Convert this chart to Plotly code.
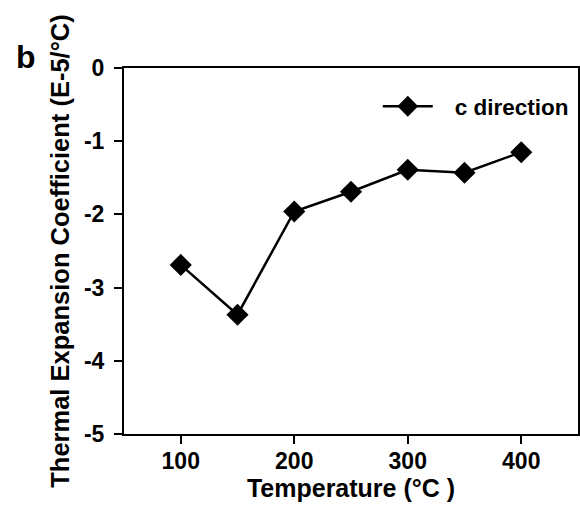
import plotly.graph_objects as go

temperature = [100, 150, 200, 250, 300, 350, 400]
c_direction = [-2.69, -3.37, -1.96, -1.69, -1.39, -1.43, -1.15]
x_ticks = [100, 200, 300, 400]
y_ticks = [0, -1, -2, -3, -4, -5]
y_tick_text = ["0", "-1", "-2", "-3", "-4", "-5"]

FAM = "Liberation Sans, Arial, sans-serif"

fig = go.Figure()
fig.add_trace(go.Scatter(
    x=temperature, y=c_direction, mode="lines+markers",
    name="\u00a0\u00a0\u2009c direction",
    line=dict(color="black", width=2.5),
    marker=dict(symbol="diamond", size=17, color="black"),
))

fig.update_layout(
    width=580, height=509,
    margin=dict(l=124, r=2, t=68, b=75),
    plot_bgcolor="white", paper_bgcolor="white",
    font=dict(family=FAM, size=20, color="black", weight="bold"),
    showlegend=True,
    legend=dict(x=0.559, y=0.8945, xanchor="left", yanchor="middle",
                bgcolor="rgba(0,0,0,0)",
                font=dict(family=FAM, size=22.5, weight="bold", color="black"),
                itemwidth=50),
    xaxis=dict(range=[50, 450], tickvals=x_ticks, ticks="outside", ticklen=8,
               tickwidth=2, tickcolor="black", showline=True, linewidth=2,
               linecolor="black", mirror=True, showgrid=False, zeroline=False,
               automargin=False, ticklabelstandoff=-3,
               tickfont=dict(family=FAM, size=23, weight="bold", color="black"),
               title=dict(text="Temperature (°C )", standoff=2,
                          font=dict(family=FAM, size=25, weight="bold", color="black"))),
    yaxis=dict(range=[-5, 0], tickvals=y_ticks, ticktext=y_tick_text,
               ticks="outside", ticklen=8,
               tickwidth=2, tickcolor="black", showline=True, linewidth=2,
               linecolor="black", mirror=True, showgrid=False, zeroline=False,
               automargin=False, ticklabelstandoff=5,
               tickfont=dict(family=FAM, size=23, weight="bold", color="black"),
               title=dict(text="Thermal Expansion Coefficient (E-5/°C)", standoff=7,
                          font=dict(family=FAM, size=25.5, weight="bold", color="black"))),
)

pw = 580 - 124 - 2
ph = 509 - 68 - 75
fig.add_annotation(text="b", xref="paper", yref="paper",
                   x=(26 - 124) / pw, y=(509 - 75 - 57) / ph,
                   xanchor="center", yanchor="middle", showarrow=False,
                   font=dict(family=FAM, size=32, weight="bold", color="black"))

fig.write_html("out.html", config={"displayModeBar": False},
               post_script="document.body.style.margin='0px';")
